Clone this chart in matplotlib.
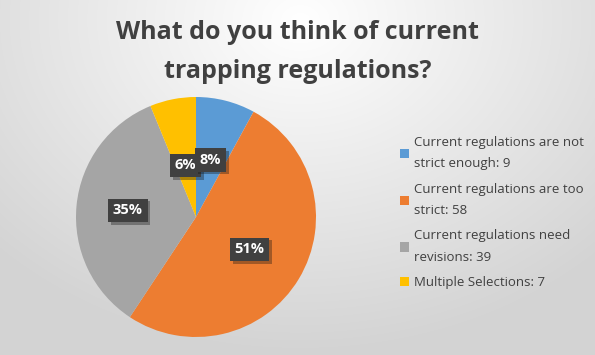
import numpy as np
import matplotlib.pyplot as plt
import matplotlib.patheffects as pe
from matplotlib.patches import Patch

labels = ["Current regulations are not\nstrict enough: 9",
          "Current regulations are too\nstrict: 58",
          "Current regulations need\nrevisions: 39",
          "Multiple Selections: 7"]
counts = [9, 58, 39, 7]
colors = ["#5B9BD5", "#ED7D31", "#A5A5A5", "#FFC000"]
label_radius = [0.49, 0.52, 0.57, 0.44]

plt.rcParams['font.family'] = ['Open Sans', 'DejaVu Sans']

fig = plt.figure(figsize=(5.95, 3.55), dpi=100)

# radial gradient background
bg = fig.add_axes([0, 0, 1, 1])
yy, xx = np.mgrid[0:355, 0:595]
d = np.sqrt(((xx - 300) / 420.0) ** 2 + ((yy - 20) / 330.0) ** 2)
shade = 1.0 - 0.17 * np.clip(d, 0, 1)
bg.imshow(np.dstack([shade, shade, shade]), aspect='auto', extent=[0, 1, 0, 1])
bg.set_axis_off()

ax = fig.add_axes([76 / 595, 18 / 355, 240 / 595, 240 / 355])
wedges, texts, autotexts = ax.pie(counts, colors=colors, startangle=90, counterclock=False,
                                  autopct=lambda p: f"{p:.0f}%", pctdistance=0.5,
                                  textprops=dict(color="white", fontsize=10.5, fontweight="bold"))
for i, (w, t, r) in enumerate(zip(wedges, autotexts, label_radius)):
    mid = np.deg2rad((w.theta1 + w.theta2) / 2)
    t.set_position((r * np.cos(mid), r * np.sin(mid)))
    t.set_zorder(10 - i)
    t.set_bbox(dict(boxstyle="square,pad=0.32", facecolor="#404040", edgecolor="none"))
    t.get_bbox_patch().set_path_effects([pe.SimplePatchShadow(offset=(2, -2), alpha=0.35),
                                         pe.Normal()])
ax.set_xlim(-1, 1)
ax.set_ylim(-1, 1)
ax.set_aspect('equal')

fig.text(0.5, 1 - 52 / 355, "What do you think of current\ntrapping regulations?",
         ha="center", va="center", fontsize=18, fontweight="bold", color="#404040",
         linespacing=1.7)

handles = [Patch(facecolor=c, edgecolor="none") for c in colors]
leg = fig.legend(handles, labels, loc="upper left", bbox_to_anchor=(388 / 595, 1 - 124 / 355),
                 frameon=False, fontsize=9.5, labelcolor="#404040", handlelength=0.7,
                 handleheight=0.7, handletextpad=0.4, labelspacing=0.93)
for t in leg.get_texts():
    t.set_linespacing(1.85)

fig.savefig("out.png", dpi=100)
